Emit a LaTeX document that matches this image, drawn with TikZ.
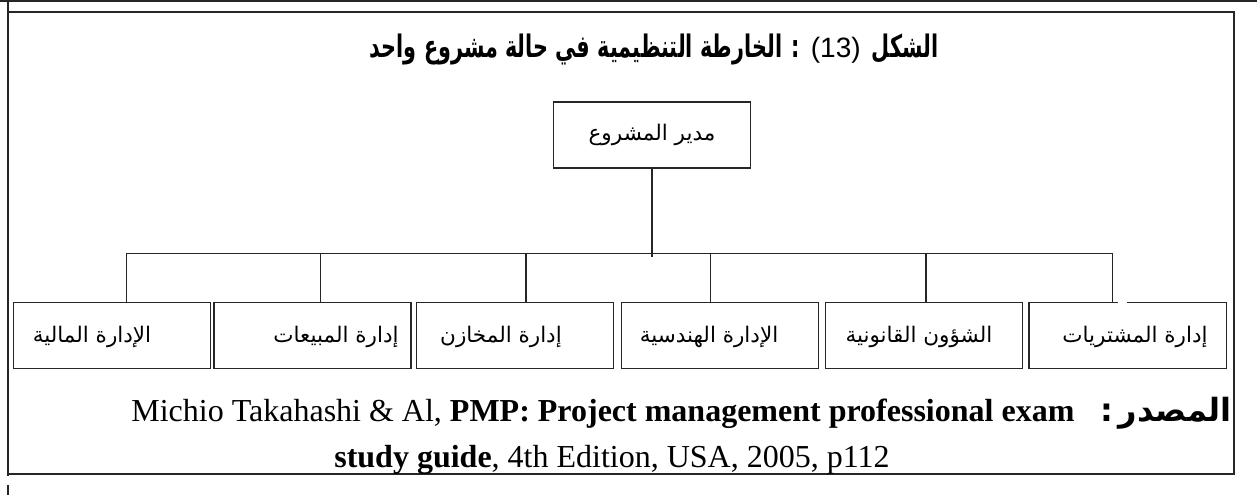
\documentclass[tikz,border=0pt]{standalone}
\usepackage{fontspec}
\usepackage{graphicx}
\setmainfont{Liberation Serif}
\newfontfamily\arabicfont[Script=Arabic]{DejaVu Sans}
\newfontfamily\latinsans{Liberation Sans}
\TeXXeTstate=1
\begin{document}
\begin{tikzpicture}[x=1pt,y=-1pt,
  frameline/.style={draw=black!85,line width=2pt},
  wire/.style={draw=black!85,line width=1.4pt},
  box/.style={draw=black!85,line width=1.4pt,minimum width=197pt,minimum height=66pt,inner sep=0pt},
  openbox/.style={draw=none,minimum width=197pt,minimum height=66pt,inner sep=0pt},
  lbl/.style={font=\arabicfont\fontsize{21.5}{25}\selectfont,inner sep=0pt},
  titletext/.style={font=\arabicfont\bfseries\fontsize{31}{36}\selectfont,inner sep=0pt},
  src/.style={font=\fontsize{32}{37}\selectfont,inner sep=0pt},
  srcar/.style={font=\arabicfont\bfseries\fontsize{32}{36}\selectfont,inner sep=0pt}]
\useasboundingbox (0,0) rectangle (1257,495);
\fill[white] (0,0) rectangle (1257,495);
% frame
\draw[frameline,line width=2.5pt] (0,1.2) -- (1257,1.2);
\draw[frameline] (8,0) -- (8,476);
\draw[frameline] (8,485) -- (8,495);
\draw[frameline] (8,12.5) -- (1234,12.5) -- (1234,473.5) -- (8,473.5);
% title
\node[titletext,anchor=base] (title) at (654,57) {\scalebox{0.67}[1]{\beginR : الخارطة التنظيمية في حالة مشروع واحد\endR}\ {\latinsans\mdseries\fontsize{28}{32}\selectfont(13)}\ \scalebox{0.67}[1]{\beginR الشكل\endR}};
% top box
\node[box,lbl] (top) at (652,135) {\beginR مدير المشروع\endR};
% lower boxes
\node[box] (b1) at (111.9,335.4) {};
\node[box] (b2) at (312.5,335.4) {};
\node[box] (b3) at (515.1,335.4) {};
\node[box] (b4) at (719.7,335.4) {};
\node[box] (b5) at (923.7,335.4) {};
\node[openbox] (b6) at (1127.7,335.4) {};
\draw[wire] ([xshift=97.8pt]b6.north west) -- (b6.north east) -- (b6.south east) -- (b6.south west) -- (b6.north west) -- ([xshift=88.8pt]b6.north west);
% labels
\node[lbl] (l1) at (92,337) {\beginR الإدارة المالية\endR};
\node[lbl] (l2) at (336,337) {\beginR إدارة المبيعات\endR};
\node[lbl] (l3) at (501,337) {\beginR إدارة المخازن\endR};
\node[lbl] (l4) at (709,337) {\beginR الإدارة الهندسية\endR};
\node[lbl] (l5) at (919,337) {\beginR الشؤون القانونية\endR};
\node[lbl] (l6) at (1135,337) {\beginR إدارة المشتريات\endR};
% connectors
\coordinate (j1) at (126.7,253.3);
\coordinate (j2) at (320.5,253.3);
\coordinate (j3) at (526,253.3);
\coordinate (j4) at (710.7,253.3);
\coordinate (j5) at (926,253.3);
\coordinate (j6) at (1112.3,253.3);
\draw[wire] (top.south) -- ([yshift=-3.4pt]top.south |- j1);
\draw[wire] (j1) -- (j6);
\draw[wire] (j1) -- (j1 |- b1.north);
\draw[wire] (j2) -- (j2 |- b2.north);
\draw[wire] (j3) -- (j3 |- b3.north);
\draw[wire] (j4) -- (j4 |- b4.north);
\draw[wire] (j5) -- (j5 |- b5.north);
\draw[wire] (j6) -- (j6 |- b6.north);
% source
\node[srcar,anchor=base east] (s0) at (1232,421) {\beginR المصدر\,:\endR};
\node[src,anchor=base east] (s1) at ([xshift=-26pt]s0.base west) {Michio Takahashi \& Al, \textbf{PMP: Project management professional exam}};
\node[src,anchor=base] (s2) at (612,467) {\textbf{study guide}, 4th Edition, USA, 2005, p112};
\end{tikzpicture}
\end{document}
